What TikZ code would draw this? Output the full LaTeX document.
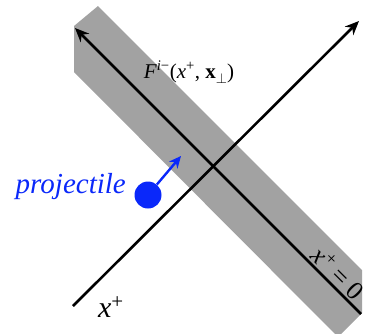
\documentclass[tikz,border=0pt]{standalone}
\usepackage{fontspec}
\setmainfont{Liberation Serif}
\usetikzlibrary{arrows.meta}
\definecolor{bandgray}{RGB}{162,162,162}
\definecolor{projblue}{RGB}{10,40,250}
\tikzset{
  axis/.style={line width=2.6pt, -{Stealth[length=14pt,width=12pt]}},
  lbl/.style={inner sep=0pt}
}
\begin{document}
\begin{tikzpicture}[x=1pt,y=-1pt]
\useasboundingbox (0,0) rectangle (365,333);
\clip (0,0) rectangle (365,333);
% shock wave band
\fill[bandgray] (74,26) -- (98,6) -- (362,270) -- (362,313) -- (338,337) -- (74,72) -- cycle;
% x+ = 0 line
\coordinate (ba) at (361,314);
\coordinate (bb) at (75,28);
\draw[axis] (ba) -- (bb);
% x+ axis
\coordinate (aa) at (73,306);
\coordinate (ab) at (359,21);
\draw[axis] (aa) -- (ab);
% labels
\node[lbl, font=\fontsize{21}{24}\selectfont] (F) at (189,72)
  {\textit{F}\textsuperscript{\textit{i}−}(\textit{x}\textsuperscript{+}, \textbf{x}\raisebox{-0.25em}{\fontsize{14}{16}\selectfont$\perp$})};
\node[lbl, font=\fontsize{30}{34}\selectfont] (xp) at (111,307) {\textit{x}\textsuperscript{+}};
\node[lbl, font=\fontsize{26}{30}\selectfont, rotate=-45] (x0) at (338,273) {\textit{x}\textsuperscript{+} = 0};
% projectile
\node[circle, fill=projblue, minimum size=27pt, inner sep=0pt] (p) at (148,195) {};
\coordinate (pt) at (181,156);
\draw[projblue, line width=2.4pt, -{Stealth[length=12pt,width=11pt]}] (p) -- (pt);
\node[lbl, text=projblue, font=\fontsize{29}{33}\selectfont\itshape, anchor=east] (pl) at (126,187) {projectile};
\end{tikzpicture}
\end{document}
